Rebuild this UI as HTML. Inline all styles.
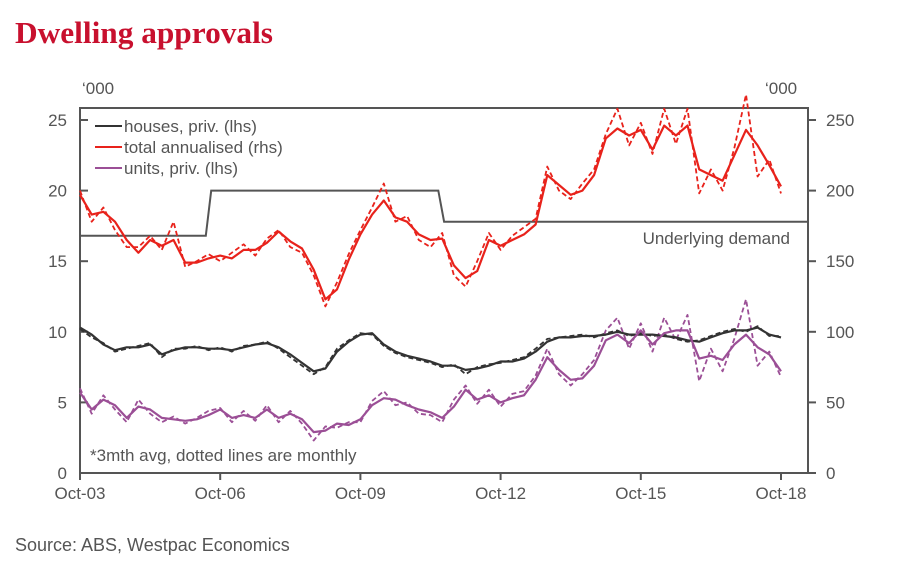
<!DOCTYPE html>
<html><head><meta charset="utf-8"><style>
body{margin:0;background:#fff;width:912px;height:571px;overflow:hidden;font-family:"Liberation Sans",sans-serif}
</style></head><body>
<svg width="912" height="571" font-family="Liberation Sans, sans-serif">
<text x="15" y="43" font-family="Liberation Serif, serif" font-size="31" font-weight="bold" textLength="258" lengthAdjust="spacingAndGlyphs" fill="#c8102e">Dwelling approvals</text>
<text x="82" y="94" font-size="17" fill="#555">‘000</text>
<text x="765" y="94" font-size="17" fill="#555">‘000</text>
<g id="axes"></g>
<g id="marks"></g>
<text x="15" y="551" font-size="18" fill="#555">Source: ABS, Westpac Economics</text>
</svg>
<script>
const xLabels=["Oct-03","Oct-06","Oct-09","Oct-12","Oct-15","Oct-18"];
const leftTicks=[0,5,10,15,20,25];
const rightTicks=[0,50,100,150,200,250];
const total=[197,183,185,178,165,156,165,161,165,149,149,152,154,152,158,158,163,171,164,159,144,123,130,151,169,183,193,181,178,169,165,166,147,138,143,165,161,165,169,176,211,204,197,200,211,237,244,239,243,229,246,239,246,215,211,207,225,243,232,218,203];
const totalM=[200,178,188,172,160,160,168,158,178,146,150,155,150,156,162,154,166,172,160,156,140,118,135,155,172,188,205,178,182,165,160,170,140,132,150,170,158,168,174,180,217,200,194,205,215,240,258,232,248,226,258,233,258,198,215,200,230,268,210,222,198];
const houses=[10.3,9.8,9.1,8.7,8.9,8.9,9.1,8.4,8.7,8.9,8.9,8.8,8.8,8.7,8.9,9.1,9.2,8.9,8.4,7.8,7.2,7.4,8.6,9.3,9.8,9.9,9.1,8.6,8.3,8.1,7.9,7.6,7.6,7.3,7.4,7.6,7.9,7.9,8.1,8.6,9.3,9.6,9.6,9.7,9.7,9.8,10.0,9.8,9.8,9.8,9.7,9.6,9.4,9.3,9.6,9.9,10.1,10.1,10.3,9.8,9.6];
const housesM=[10.2,9.6,9.2,8.6,8.8,9.0,9.2,8.2,8.8,8.8,9.0,8.7,8.9,8.6,9.0,9.1,9.3,8.8,8.2,7.6,7.0,7.5,8.8,9.4,9.9,9.8,9.0,8.5,8.2,8.0,7.8,7.5,7.7,7.0,7.5,7.7,7.8,8.0,8.2,8.8,9.5,9.6,9.7,9.8,9.6,9.9,10.1,9.7,9.9,9.7,9.8,9.5,9.3,9.4,9.7,10.0,10.2,10.0,10.4,9.7,9.7];
const units=[5.7,4.5,5.2,4.8,3.9,4.7,4.5,3.9,3.8,3.7,3.8,4.1,4.5,3.9,4.1,3.9,4.5,3.9,4.2,3.8,2.9,3.0,3.5,3.4,3.8,4.8,5.3,5.2,4.8,4.5,4.3,3.9,4.7,5.9,5.2,5.5,5.0,5.3,5.5,6.6,8.2,7.3,6.6,6.7,7.6,9.4,9.8,9.2,10.1,9.1,9.9,10.1,10.1,8.1,8.3,8.0,9.1,9.8,8.9,8.4,7.2];
const unitsM=[6.0,4.2,5.5,4.5,3.6,5.2,4.2,3.6,4.0,3.5,3.9,4.4,4.6,3.6,4.4,3.7,4.8,3.6,4.4,3.5,2.3,3.3,3.2,3.6,3.6,5.1,5.8,4.8,5.0,4.2,4.1,3.6,5.2,6.2,4.9,5.9,4.7,5.6,5.8,6.9,8.8,7.0,6.2,7.0,8.0,10.1,11.0,8.8,10.6,8.6,11.0,9.4,11.2,6.5,8.8,7.2,9.5,12.3,7.6,8.6,6.8];
const demandX=[0,32.3,33.7,92,93.5,180];
const demandV=[168,168,200,200,178,178];

const X0=80,X1=781,Y0=473,YL=120;
const ns="http://www.w3.org/2000/svg";
const xm=m=>X0+(X1-X0)*m/180;
const xq=i=>xm(i*3);
const yl=v=>Y0-(Y0-YL)*v/25;
const yr=v=>Y0-(Y0-YL)*v/250;
function mk(tag,attrs,parent,txt){const e=document.createElementNS(ns,tag);for(const k in attrs)e.setAttribute(k,attrs[k]);if(txt!=null)e.textContent=txt;parent.appendChild(e);return e;}
const ax=document.getElementById('axes'),mg=document.getElementById('marks');
const frame=mk('path',{d:`M80 473 V108 H808 V473`,fill:'none',stroke:'#555','stroke-width':2},ax);


const xa=mk('line',{x1:80,x2:808,y1:473,y2:473,stroke:'#555','stroke-width':2},ax);


leftTicks.forEach(v=>{
  const t=mk('line',{x1:80,x2:88,y1:yl(v),y2:yl(v),stroke:'#555','stroke-width':2},ax);
  
  
  const l=mk('text',{x:67,y:yl(v)+6,'text-anchor':'end','font-size':17,fill:'#555'},ax,v);
  
  
});
rightTicks.forEach(v=>{
  const t=mk('line',{x1:808,x2:816,y1:yr(v),y2:yr(v),stroke:'#555','stroke-width':2},ax);
  
  
  const l=mk('text',{x:826,y:yr(v)+6,'font-size':17,fill:'#555'},ax,v);
  
  
});
xLabels.forEach((s,i)=>{
  const x=xm(i*36);
  const t=mk('line',{x1:x,x2:x,y1:473,y2:480,stroke:'#555','stroke-width':2},ax);
  
  
  const l=mk('text',{x:x,y:499,'text-anchor':'middle','font-size':17,fill:'#555'},ax,s);
  
  
});
function line(arr,ys,col,dash,name,w){
  const d=arr.map((v,i)=>(i?'L':'M')+xq(i).toFixed(1)+' '+ys(v).toFixed(1)).join(' ');
  const p=mk('path',{d:d,fill:'none',stroke:col,'stroke-width':w||2,'stroke-dasharray':dash||'none','stroke-linejoin':'round'},mg);
  
  
}
const dd=demandX.map((m,i)=>(i?'L':'M')+xm(m).toFixed(1)+' '+yr(demandV[i]).toFixed(1)).join(' ');
const dp=mk('path',{d:dd+' L808 '+yr(178).toFixed(1),fill:'none',stroke:'#555','stroke-width':2},mg);


line(totalM,yr,'#e8221b','5 3','total-monthly-line',1.8);
line(housesM,yl,'#333','5 3','houses-monthly-line',1.8);
line(unitsM,yl,'#9b4f96','5 3','units-monthly-line',1.8);
line(total,yr,'#e8221b',null,'total-3mth-line',2.2);
line(houses,yl,'#333',null,'houses-3mth-line',2.2);
line(units,yl,'#9b4f96',null,'units-3mth-line',2.2);
const ud=mk('text',{x:790,y:244,'text-anchor':'end','font-size':17,fill:'#555'},mg,'Underlying demand');


const nt=mk('text',{x:90,y:461,'font-size':17,fill:'#555'},mg,'*3mth avg, dotted lines are monthly');


[['houses, priv. (lhs)','#333'],['total annualised (rhs)','#e8221b'],['units, priv. (lhs)','#9b4f96']].forEach((e,i)=>{
  const y=126+i*21;
  const g=mk('g',{},mg);
  
  
  mk('line',{x1:95,x2:122,y1:y,y2:y,stroke:e[1],'stroke-width':2},g);
  mk('text',{x:124,y:y+6,'font-size':17,fill:'#555'},g,e[0]);
});
</script>
</body></html>
